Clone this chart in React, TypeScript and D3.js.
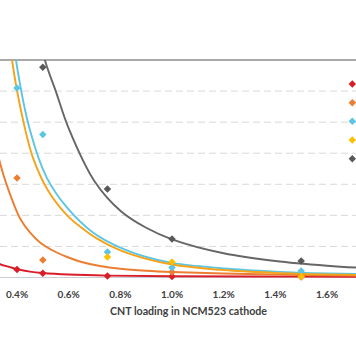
import React from "react";
import * as d3 from "d3";

// ---- data ----
const xTicks = [0.4, 0.6, 0.8, 1.0, 1.2, 1.4, 1.6];
const yGrid = [10, 20, 30, 40, 50, 60];
const seriesNames = ["S1", "S2", "S3", "S4", "S5"];
const seriesColors = ["#D91E2A", "#ED7D31", "#5BC5E3", "#FFC000", "#595959"];
const lineColors = ["#D91E2A", "#ED7D31", "#5BC5E3", "#F5A31A", "#666666"];

// measured points [CNT %, value]
const redPts: [number, number][] = [[0.4, 2.6], [0.5, 1.35], [0.75, 0.5], [1.0, 0.35], [1.5, 0.3]];
const orangePts: [number, number][] = [[0.4, 32], [0.5, 5.6], [1.0, 1.8], [1.5, 0.2]];
const cyanPts: [number, number][] = [[0.4, 61], [0.5, 46], [0.75, 8.2], [1.0, 3.2], [1.5, 2.1]];
const yellowPts: [number, number][] = [[0.75, 6.6], [1.0, 5.0], [1.5, 0.3]];
const grayPts: [number, number][] = [[0.5, 67.7], [0.75, 28.5], [1.0, 12.4], [1.5, 5.3]];

// trend curves [CNT %, value]
const redFit: [number, number][] = [[0.3, 6], [0.334, 4.3], [0.37, 3.4], [0.4, 2.7], [0.45, 1.9], [0.5, 1.45], [0.6, 0.95], [0.75, 0.6], [1.0, 0.42], [1.5, 0.28], [2.0, 0.2]];
const orangeFit: [number, number][] = [[0.3, 52], [0.334, 37], [0.37, 27.5], [0.412, 19], [0.45, 14.5], [0.489, 11.3], [0.55, 8.2], [0.594, 6.6], [0.65, 5.0], [0.721, 3.7], [0.8, 2.8], [0.9, 2.15], [1.0, 1.75], [1.2, 1.3], [1.4, 0.95], [1.6, 0.7], [1.8, 0.5], [2.0, 0.4]];
const cyanFit: [number, number][] = [[0.385, 78], [0.396, 70], [0.45, 47.5], [0.516, 32], [0.594, 22.5], [0.694, 14.5], [0.8, 9.6], [0.9, 6.6], [1.0, 4.7], [1.2, 2.9], [1.4, 1.9], [1.6, 1.3], [1.8, 0.95], [2.0, 0.7]];
const yellowFit: [number, number][] = [[0.372, 78], [0.381, 70], [0.42, 52], [0.462, 38.5], [0.52, 28], [0.594, 20], [0.65, 16], [0.71, 12.5], [0.8, 8.7], [0.9, 6], [1.0, 4.2], [1.2, 2.4], [1.4, 1.5], [1.6, 1.0], [1.8, 0.7], [2.0, 0.5]];
const grayFit: [number, number][] = [[0.49, 78], [0.508, 70], [0.55, 60], [0.6, 48], [0.7, 31], [0.8, 21.5], [0.9, 16], [1.0, 12.3], [1.2, 7.8], [1.4, 5.3], [1.6, 3.8], [1.8, 2.8], [2.0, 2.1]];

const allPts = [redPts, orangePts, cyanPts, yellowPts, grayPts];
const allFits = [redFit, orangeFit, cyanFit, yellowFit, grayFit];

const xAxisTitle = "CNT loading in NCM523 cathode";

export default function App() {
  const W = 356, H = 364;
  const top = 60, bottom = 277.5;
  const x = d3.scaleLinear().domain([0.4, 0.6]).range([17, 68.67]);
  const y = d3.scaleLinear().domain([0, 70]).range([bottom, top]);
  const line = d3.line<[number, number]>()
    .x((d) => x(d[0]))
    .y((d) => y(d[1]))
    .curve(d3.curveCatmullRom.alpha(0.5));
  const diamond = d3.symbol().type(d3.symbolDiamond2).size(36);
  const fmt = (v: number) => v.toFixed(1) + "%";
  const legendY = d3.scaleLinear().domain([0, 4]).range([84, 158.7]);

  return (
    <svg width={W} height={H} style={{ position: "absolute", left: 0, top: 0, background: "#fff" }}
      fontFamily="Lato, 'Open Sans', sans-serif">
      <defs>
        <clipPath id="plot">
          <rect x={0} y={top} width={W} height={bottom - top + 4} />
        </clipPath>
      </defs>
      {yGrid.map((g) => (
        <line key={g} x1={0} x2={W} y1={y(g)} y2={y(g)} stroke="#D9D9D9" strokeWidth={1} strokeDasharray="7,4" />
      ))}
      <line x1={0} x2={W} y1={bottom} y2={bottom} stroke="#C9CED6" strokeWidth={1.2} />
      <line x1={0} x2={W} y1={top} y2={top} stroke="#8C8C8C" strokeWidth={1.6} />
      <g clipPath="url(#plot)">
        {allFits.map((f, i) => (
          <path key={i} d={line(f) || ""} fill="none" stroke={lineColors[i]} strokeWidth={1.9} />
        ))}
        {allPts.map((pts, i) =>
          pts.map((p, j) => (
            <path key={i + "-" + j} d={diamond() || ""} transform={`translate(${x(p[0])},${y(p[1])})`} fill={seriesColors[i]} />
          ))
        )}
      </g>
      {seriesNames.map((n, i) => (
        <path key={n} d={diamond() || ""} transform={`translate(352.3,${legendY(i)})`} fill={seriesColors[i]} />
      ))}
      {xTicks.map((t) => (
        <text key={t} x={x(t)} y={297.5} textAnchor="middle" fontSize={10} fontWeight={700} fill="#404040">
          {fmt(t)}
        </text>
      ))}
      <text x={188.5} y={314.5} textAnchor="middle" fontSize={10.5} fontWeight={700} fill="#404040"
        textLength={157} lengthAdjust="spacingAndGlyphs">{xAxisTitle}</text>
    </svg>
  );
}
